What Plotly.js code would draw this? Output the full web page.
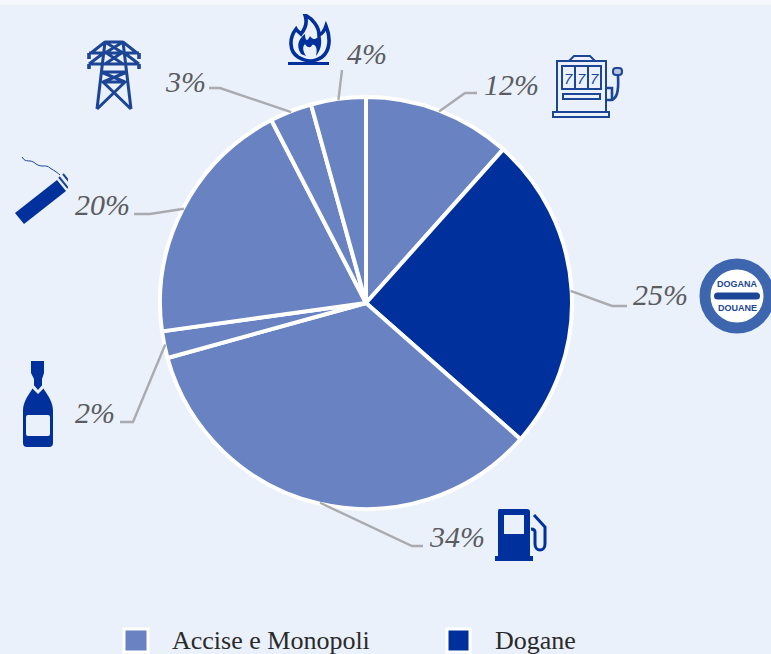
<!DOCTYPE html>
<html><head><meta charset="utf-8">
<script src="https://cdn.plot.ly/plotly-3.0.1.min.js"></script>
<style>html,body{margin:0;padding:0;background:#ebf1fa}#c{width:771px;height:654px}</style>
</head><body><div id="c"></div>
<script>
// Data
const categories = ['Giochi','Dogane','Carburanti','Alcolici','Tabacchi','Energia elettrica','Gas naturale'];
const shares = [11.6,24.9,34.2,2.1,19.6,3.3,4.3];
const shareLabels = ['12%','25%','34%','2%','20%','3%','4%'];
const groups = ['Accise e Monopoli','Dogane','Accise e Monopoli','Accise e Monopoli','Accise e Monopoli','Accise e Monopoli','Accise e Monopoli'];
const legendNames = ['Accise e Monopoli','Dogane'];

// Layout / style
const W=771,H=654,CX=366,CY=303,R=206;
const X=p=>p/W, Y=p=>1-p/H;
const colorOf={'Accise e Monopoli':'#6882c2','Dogane':'#00309c'};
const labelPos=[[511,85],[660,295],[457,536],[95,412],[102,204],[185,81],[367,54]];
const elbows=[[[465,93],[477,93]],[[612,306],[627,306]],[[412,546],[423,546]],[[133,422],[120,422]],[[150,214],[134,214]],[[220,88],[209,88]],[[342,70]]];
const legendBox=[[124,148,629,652],[447,470,629,652]];
const legendText=[170,493];

const svg=(w,h,b)=>'data:image/svg+xml;utf8,'+encodeURIComponent(`<svg xmlns="http://www.w3.org/2000/svg" width="${w*4}" height="${h*4}" viewBox="0 0 ${w} ${h}">${b}</svg>`);
const B='#00309c', N='#1c4596', BG='#ebf1fa';
const icons=[
 // tower
 {x:87,y:40,w:54,h:70,s:svg(54,70,`<g fill="none" stroke="${N}" stroke-width="3" stroke-linejoin="round"><path d="M18 2H36M4 13L18 2L10 69M50 13L36 2L44 69M10 69L38 42H16L44 69M2 13H52M2 24L18 12M52 24L36 12M2 24H52M14 32H40M14 32L38 42M40 32L16 42M18 2L36 13M36 2L18 13M18 12L36 24M36 12L18 24"/><path d="M2 13V19M52 13V19M2 24V29M52 24V29" stroke-width="3.6"/></g>`)},
 // flame
 {x:288,y:14,w:44,h:52,s:svg(44,52,`<path d="M8 15C1 24 1 37 10 43C18 48 27 48 34 43C42 37 43 24 38 12C36 18 34 20 31 21C31 13 25 5 17 1C20 9 17 15 13 20C11 18 9 17 8 15Z" fill="${BG}" stroke="${B}" stroke-width="3.6"/><path d="M13 40C7 30 12 24 17 20C17 26 19 29 22 22C26 28 30 24 32 20C35 30 32 37 28 42C30 33 27 30 24 31C23 35 18 33 17 30C14 33 15 37 18 42Z" fill="${B}"/><rect x="0" y="48" width="41" height="3" fill="${B}"/>`)},
 // slot machine
 {x:552,y:54,w:71,h:65,s:svg(71,65,`<g fill="none" stroke="${N}" stroke-width="2"><rect x="5" y="7" width="49" height="51"/><path d="M17 7L22 2H38L43 7"/><rect x="10" y="12" width="39" height="23"/><path d="M23 12V35M36 12V35"/><rect x="11" y="40" width="37" height="5"/><rect x="1" y="58" width="56" height="5"/><path d="M54 46H60C64 44 67 40 66 22M54 34H60V46" stroke-width="2.6"/><rect x="61" y="14" width="9" height="7" rx="3" fill="${N}" fill-opacity="0.25"/></g><g font-family="Liberation Sans" font-size="15" font-style="italic" fill="${N}"><text x="12" y="30">7</text><text x="25" y="30">7</text><text x="38" y="30">7</text></g>`)},
 // customs badge
 {x:699,y:258,w:76,h:76,s:svg(76,76,`<circle cx="38" cy="38" r="32" fill="#fff" stroke="#3e66ae" stroke-width="11"/><rect x="15" y="34.5" width="46" height="7" rx="3.5" fill="#1c4596"/>`)},
 // cigarette
 {x:14,y:156,w:54,h:69,s:svg(54,69,`<path d="M8 1C12 8 16 2 22 8C28 12 32 8 36 12C41 15 44 17 46 19" fill="none" stroke="${N}" stroke-width="1"/><path d="M1 57L43 24L52 35L10 68Z" fill="${B}"/><path d="M45 21L54 32M49 18L58 29" stroke="${N}" stroke-width="2"/>`)},
 // bottle
 {x:23,y:361,w:30,h:86,s:svg(30,86,`<path d="M8 0H21V12L19 18V25L22 30C26 36 30 42 30 50V82Q30 86 26 86H4Q0 86 0 82V50C0 42 4 36 8 30L11 25V18L8 12Z" fill="${B}"/><rect x="3" y="54" width="24" height="21" rx="2" fill="${BG}"/><path d="M9 22L15 29L21 22V27L15 33L9 27Z" fill="${BG}"/>`)},
 // pump
 {x:495,y:508,w:55,h:53,s:svg(55,53,`<path d="M4 1H32Q35 1 35 4V48H38V53H0V48H3V4Q3 1 4 1Z" fill="${B}"/><rect x="9" y="7" width="20" height="19" fill="${BG}"/><path d="M39 7L50 19V36C50 44 40 44 40 36V24C40 21 37 21 36 21" fill="none" stroke="${B}" stroke-width="3"/>`)}
];

// Leader lines start on the rim at the mid-angle of each slice
const total=shares.reduce((a,b)=>a+b,0);
let acc=0;
const leaders=shares.map((v,i)=>{
  const a=(acc+v/2)/total*2*Math.PI; acc+=v;
  const pts=[[CX+(R-1)*Math.sin(a),CY-(R-1)*Math.cos(a)],...elbows[i]];
  return {type:'path',xref:'paper',yref:'paper',layer:'above',
    path:pts.map((p,k)=>(k?'L':'M')+X(p[0])+' '+Y(p[1])).join(' '),
    line:{color:'#a9abb0',width:2.4}};
});

const trace={type:'pie',labels:categories,values:shares,text:shareLabels,textinfo:'none',
  sort:false,direction:'clockwise',rotation:0,hoverinfo:'label+text',
  marker:{colors:groups.map(g=>colorOf[g]),line:{color:'#ffffff',width:4}},
  domain:{x:[X(CX-R),X(CX+R)],y:[Y(CY+R),Y(CY-R)]},showlegend:false};

const shapes=[
 {type:'rect',xref:'paper',yref:'paper',x0:0,x1:1,y0:Y(5),y1:1,fillcolor:'#f5f8fb',line:{width:0},layer:'below'},
 ...leaders,
 ...legendNames.map((n,i)=>{const b=legendBox[i];return {type:'rect',xref:'paper',yref:'paper',x0:X(b[0]),x1:X(b[1]),y0:Y(b[3]),y1:Y(b[2]),fillcolor:colorOf[n],line:{color:'#ffffff',width:3}};})
];

const annotations=[
 ...shareLabels.map((t,i)=>({text:t,xref:'paper',yref:'paper',x:X(labelPos[i][0]),y:Y(labelPos[i][1]),xanchor:'center',yanchor:'middle',showarrow:false,
   font:{family:'Liberation Serif',size:30,color:'#5a5c62',style:'italic'}})),
 ...legendNames.map((n,i)=>({text:n,xref:'paper',yref:'paper',x:X(legendText[i]),y:Y(640),xanchor:'left',yanchor:'middle',showarrow:false,
   font:{family:'Liberation Serif',size:26,color:'#2a2a2a'}})),
 {text:'DOGANA',xref:'paper',yref:'paper',x:X(737),y:Y(284),xanchor:'center',yanchor:'middle',showarrow:false,font:{family:'Liberation Sans',size:9,color:'#1c4596',weight:700}},
 {text:'DOUANE',xref:'paper',yref:'paper',x:X(737),y:Y(308),xanchor:'center',yanchor:'middle',showarrow:false,font:{family:'Liberation Sans',size:9,color:'#1c4596',weight:700}}
];

const images=icons.map(ic=>({source:ic.s,xref:'paper',yref:'paper',x:X(ic.x),y:Y(ic.y),sizex:ic.w/W,sizey:ic.h/H,xanchor:'left',yanchor:'top',sizing:'stretch',layer:'above'}));

Plotly.newPlot('c',[trace],{width:W,height:H,margin:{l:0,r:0,t:0,b:0},paper_bgcolor:BG,plot_bgcolor:BG,shapes,annotations,images,showlegend:false},{displayModeBar:false,staticPlot:true});
</script></body></html>
